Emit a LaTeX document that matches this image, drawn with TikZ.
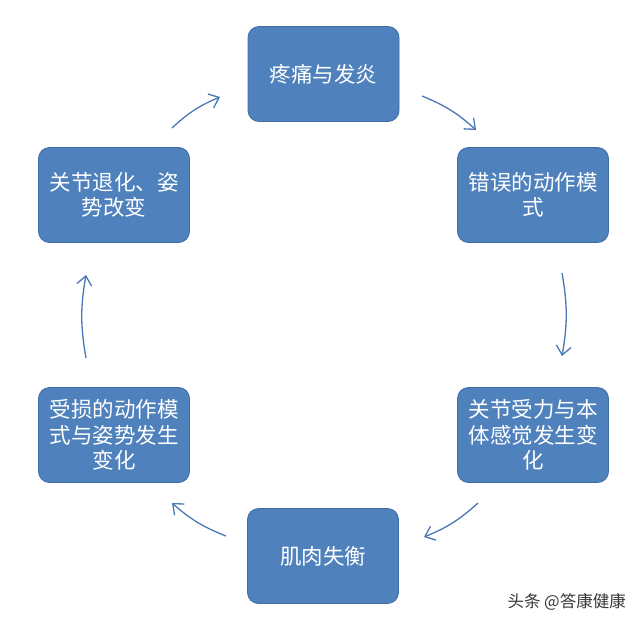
\documentclass[tikz,border=0pt]{standalone}
\usepackage{fontspec}
\setmainfont{Noto Sans CJK SC}
\usetikzlibrary{arrows.meta}
\definecolor{boxfill}{HTML}{4F81BD}
\definecolor{boxline}{HTML}{3F6DA5}
\definecolor{arrowc}{HTML}{4A78B4}
\begin{document}
\begin{tikzpicture}[x=1pt,y=-1pt,
  stagebox/.style={draw=boxline,line width=0.8pt,fill=boxfill,rounded corners=11pt,
    minimum width=151pt,minimum height=95pt,text=white,align=center,
    font=\fontsize{21.5}{25.5}\selectfont,inner sep=1pt},
  cyc/.style={draw=arrowc,line width=1.3pt,-{Straight Barb[length=9pt,width=15pt,line width=1.3pt]},bend left=10}]
\useasboundingbox (0,0) rectangle (640,627);
\fill[white] (0,0) rectangle (640,627);
\node[stagebox] (top) at (323.5,74) {疼痛与发炎};
\node[stagebox] (ru) at (533,195) {错误的动作模\\式};
\node[stagebox] (rl) at (533,435) {关节受力与本\\体感觉发生变\\化};
\node[stagebox] (bot) at (323,556) {肌肉失衡};
\node[stagebox] (ll) at (114,435) {受损的动作模\\式与姿势发生\\变化};
\node[stagebox] (lu) at (114,195) {关节退化、姿\\势改变};
\coordinate (a1s) at (422,96);  \coordinate (a1e) at (476,130);
\coordinate (a2s) at (562,273); \coordinate (a2e) at (562,356);
\coordinate (a3s) at (478,503); \coordinate (a3e) at (424,537);
\coordinate (a4s) at (226,536); \coordinate (a4e) at (172,503);
\coordinate (a5s) at (86,358);  \coordinate (a5e) at (86,275);
\coordinate (a6s) at (172,128); \coordinate (a6e) at (220,97);
\draw[cyc] (a1s) to (a1e);
\draw[cyc] (a2s) to (a2e);
\draw[cyc] (a3s) to (a3e);
\draw[cyc] (a4s) to (a4e);
\draw[cyc] (a5s) to (a5e);
\draw[cyc] (a6s) to (a6e);
\node[text=black!78,font=\fontsize{16.5}{18}\selectfont,anchor=east,inner sep=0pt] (wm) at (626,602) {头条 @答康健康};
\end{tikzpicture}
\end{document}
